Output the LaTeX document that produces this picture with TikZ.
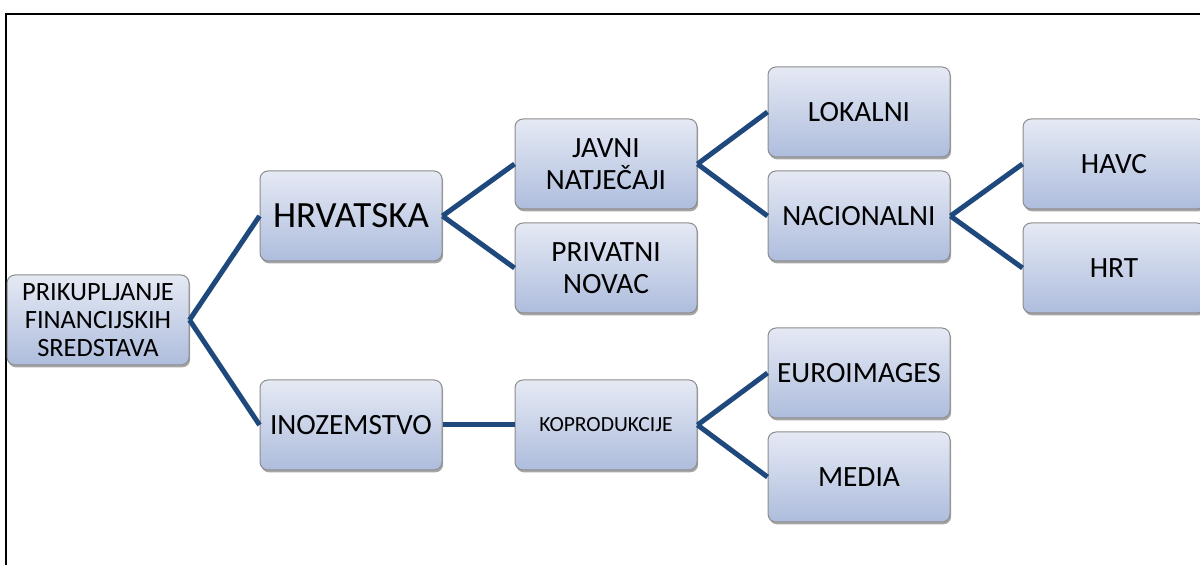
\documentclass[tikz,border=0pt]{standalone}
\usepackage{fontspec}
\setmainfont{Carlito}
\usetikzlibrary{shadows}
\definecolor{boxtop}{RGB}{229,233,244}
\definecolor{boxbottom}{RGB}{174,189,221}
\definecolor{linkblue}{RGB}{31,73,125}

\begin{document}
\begin{tikzpicture}[x=0.5pt, y=-0.5pt,
boxnode/.style={rectangle, rounded corners=4pt, draw=black!45, line width=0.5pt, top color=boxtop, bottom color=boxbottom, minimum width=91pt, minimum height=45pt, inner sep=1pt, align=center, font=\fontsize{14.7}{16}\selectfont, drop shadow={shadow xshift=0.6pt, shadow yshift=-1.2pt, opacity=0.35, fill=black}},
link/.style={draw=linkblue, line width=2.5pt}
]
    \clip (0,0) rectangle (1200,565);
    \draw[line width=1pt] (6,580) -- (6,14) -- (1215,14);

    \node[boxnode, font=\fontsize{13.2}{14}\selectfont] (root) at (98,320){PRIKUPLJANJE\\FINANCIJSKIH\\SREDSTAVA};

    \node[boxnode, font=\fontsize{18.5}{21}\selectfont] (hr) at (351,216){HRVATSKA};
    \node[boxnode] (ino) at (351,425){INOZEMSTVO};

    \node[boxnode] (javni) at (606,164){JAVNI\\NATJEČAJI};
    \node[boxnode] (priv) at (606,268){PRIVATNI\\NOVAC};
    \node[boxnode, font=\fontsize{10.8}{12}\selectfont] (kop) at (606,425){KOPRODUKCIJE};

    \node[boxnode] (lok) at (859,112){LOKALNI};
    \node[boxnode] (nac) at (859,216){NACIONALNI};
    \node[boxnode] (euro) at (859,373){EUROIMAGES};
    \node[boxnode] (media) at (859,477){MEDIA};

    \node[boxnode] (havc) at (1114,164){HAVC};
    \node[boxnode] (hrt) at (1114,268){HRT};

    \draw[link] (root.east) -- (hr.west);
    \draw[link] (root.east) -- (ino.west);

    \draw[link] (hr.east) -- (javni.west);
    \draw[link] (hr.east) -- (priv.west);
    \draw[link] (ino.east) -- (kop.west);

    \draw[link] (javni.east) -- (lok.west);
    \draw[link] (javni.east) -- (nac.west);
    \draw[link] (kop.east) -- (euro.west);
    \draw[link] (kop.east) -- (media.west);

    \draw[link] (nac.east) -- (havc.west);
    \draw[link] (nac.east) -- (hrt.west);
\end{tikzpicture}
\end{document}
